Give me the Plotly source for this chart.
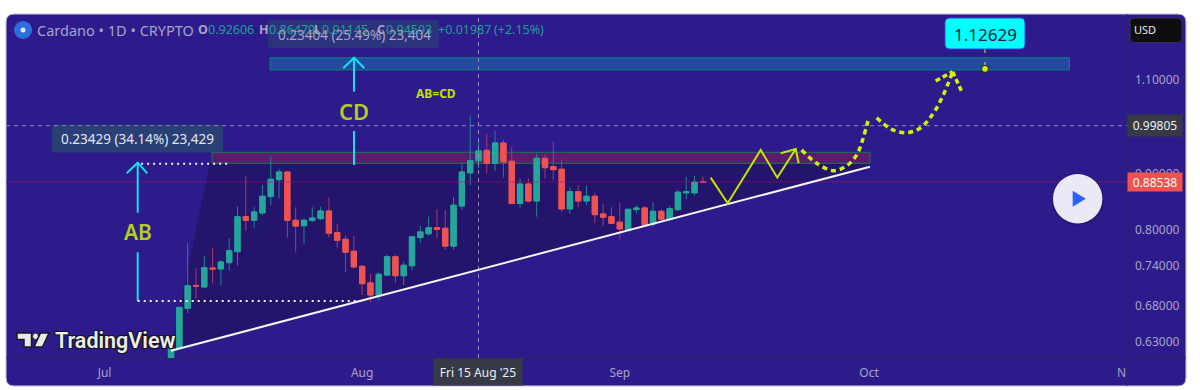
import math
import pandas as pd
import plotly.graph_objects as go

FONT = "Noto Sans"
W, H = 1200, 390
CARD = "#2d1b8c"
ORIGIN = pd.Timestamp("2025-08-15")

# ---- candle data ----
first_day = "2025-07-09"
opens = [.605,.6215,.6768,.7105,.7082,.7374,.7358,.7457,.7634,.8224,.8161,.8289,.8583,.8898,.9044,.8161,.8066,.8161,.8190,.8324,
         .7950,.7838,.7640,.7400,.7143,.6961,.7264,.7552,.7253,.7409,.7865,.7930,.8034,.8023,.7725,.8413,.9027,.92606,.9471,.9213,
         .9620,.9253,.8458,.8816,.8503,.9312,.9148,.9097,.8360,.8673,.8503,.8589,.8272,.8224,.8128,.8006,.8348,.8378,.8097,.8318,
         .8180,.8348,.8652,.8652,.8862]
highs = [.6215,.678,.7771,.7369,.7564,.7689,.7500,.7855,.8401,.8968,.8390,.8798,.9344,.9097,.9060,.8390,.8195,.8390,.8401,.8570,
         .8097,.7900,.7895,.7420,.7280,.7306,.7591,.7591,.7473,.7895,.8065,.8224,.8360,.8342,.8575,.9213,1.0195,.96479,.9799,.9875,
         .9682,.9538,.8922,.8922,.9412,.9392,.9642,.9292,.8752,.8790,.8792,.8643,.8453,.8390,.8470,.8360,.8431,.8413,.8480,.8360,
         .8419,.8705,.8954,.8968,.8954]
lows = [.600,.6215,.6696,.6903,.7070,.7137,.7111,.7331,.7409,.7978,.8034,.8247,.8427,.8545,.7865,.7634,.7760,.8128,.8166,.7872,
        .7700,.7311,.7369,.6961,.6855,.6879,.7250,.7143,.7111,.7342,.7771,.7897,.7859,.7667,.7667,.8342,.8792,.91145,.9027,.9064,
        .8936,.8445,.8380,.8473,.8224,.8916,.8892,.8310,.8276,.8390,.8427,.8113,.8065,.8097,.7838,.7990,.8272,.8051,.8051,.8154,
        .8154,.8324,.8534,.8605,.8838]
closes = [.6215,.678,.7101,.7095,.7378,.7358,.7468,.7650,.8224,.8161,.8307,.8589,.8905,.9044,.8161,.8061,.8161,.8201,.8324,.7939,
          .7820,.7624,.7390,.7131,.6961,.7275,.7552,.7253,.7416,.7878,.7962,.8034,.8006,.7725,.8427,.9044,.9265,.94593,.9213,.9620,
          .9239,.8458,.8816,.8503,.9312,.9127,.9089,.8360,.8673,.8503,.8589,.8259,.8214,.8107,.8012,.8354,.8378,.8071,.8318,.8180,
          .8365,.8664,.8670,.8854,.88538]

# ---- axis ----
price_ticks = [1.10, 0.90, 0.80, 0.74, 0.68, 0.63]
price_tick_text = ["1.10000", "0.90000", "0.80000", "0.74000", "0.68000", "0.63000"]
month_ticks = ["2025-07-01", "2025-08-01", "2025-09-01", "2025-10-01"]
month_text = ["Jul", "Aug", "Sep", "Oct"]
view_days = [-56.86, 78.04]          # days relative to 15 Aug
view_price = [0.6088, 1.2658]

# ---- drawings: days relative to 15 Aug, price ----
last_price = 0.88538
cross_price = 0.99805
target_price = 1.12629
trend_days = [-37.0, 47.11]
trend_price = [.6183, .9147]
zone_top_days = [-25.09, 71.12]
zone_top_price = [1.1237, 1.1534]
zone_mid_days = [-32.07, 47.11]
zone_mid_price = [.9213, .9431]
wedge_days = [-37.0, -32.07, 47.11, 47.11]
wedge_price = [.6183, .9431, .9431, .9147]
zig_days = [27.94, 29.99, 33.96, 35.96, 38.17]
zig_price = [.8936, .8462, .9478, .8936, .9498]
zig_head_days = [36.37, 38.17, 38.53]
zig_head_price = [.9411, .9498, .9213]
curve1_days = [38.89, 40.70, 42.70, 44.31, 45.51, 46.31, 46.99]
curve1_price = [.9478, .9213, .9069, .9165, .9380, .9730, 1.0173]
curve2_days = [47.92, 49.72, 51.53, 53.13, 54.73, 55.93, 57.06]
curve2_price = [1.0151, .9904, .9833, .9926, 1.0247, 1.0654, 1.1196]
curve_head_days = [55.02, 57.06, 58.15]
curve_head_price = [1.0977, 1.1196, 1.0730]
ab_days = -41.01
ab_shaft1 = [.9225, .8294]
ab_shaft2 = [.7624, .6874]
ab_head_days = [-42.33, -41.01, -39.86]
ab_head_price = [.9019, .9225, .9019]
cd_days = -14.98
cd_shaft1 = [1.1534, 1.073]
cd_shaft2 = [.9869, .9180]
cd_head_days = [-16.27, -14.98, -13.74]
cd_head_price = [1.1277, 1.1534, 1.1277]
dots_top_days = [-40.6, -30.14]
dots_top_price = [.9205, .9205]
dots_low_days = [-41.01, -13.9]
dots_low_price = [.6874, .6874]
target_days = 60.95
target_stick = [1.175, 1.12629]


def day(d):
    return ORIGIN + pd.Timedelta(days=d)


def days(seq):
    return [day(d) for d in seq]


def px(x):
    return x / W


def py(y):
    return 1 - y / H


dates = pd.date_range(first_day, periods=len(opens))
fig = go.Figure()

# wicks (muted), then bodies on top
fig.add_trace(go.Candlestick(
    x=dates, open=opens, high=highs, low=lows, close=closes, whiskerwidth=0,
    increasing=dict(line=dict(color="#1c8590", width=1), fillcolor="#1c8590"),
    decreasing=dict(line=dict(color="#a83a68", width=1), fillcolor="#a83a68"),
    hoverinfo="skip", showlegend=False))
fig.add_trace(go.Candlestick(
    x=dates, open=opens, close=closes,
    high=[max(o, c) for o, c in zip(opens, closes)],
    low=[min(o, c) for o, c in zip(opens, closes)], whiskerwidth=0,
    increasing=dict(line=dict(color="#26a69a", width=1), fillcolor="#26a69a"),
    decreasing=dict(line=dict(color="#ef5350", width=1), fillcolor="#ef5350"),
    hoverinfo="skip", showlegend=False))


def line(xs, ys, color, width, dash="solid", shape="linear"):
    fig.add_trace(go.Scatter(x=xs, y=ys, mode="lines", hoverinfo="skip", showlegend=False,
                             line=dict(color=color, width=width, dash=dash, shape=shape)))


span = days(view_days)
GUIDE = "#8d88b8"
line(span, [last_price, last_price], "#7d2178", 1, "1px,1px")
line(span, [cross_price, cross_price], GUIDE, 1, "4px,4px")
line([ORIGIN, ORIGIN], view_price, GUIDE, 1, "4px,4px")

line(days(trend_days), trend_price, "#f4f4fa", 2)

CYAN = "#0fe3ee"
line([day(ab_days)] * 2, ab_shaft1, CYAN, 2)
line([day(ab_days)] * 2, ab_shaft2, CYAN, 2)
line(days(ab_head_days), ab_head_price, CYAN, 2)
line([day(cd_days)] * 2, cd_shaft1, CYAN, 2)
line([day(cd_days)] * 2, cd_shaft2, CYAN, 2)
line(days(cd_head_days), cd_head_price, CYAN, 2)
line(days(dots_top_days), dots_top_price, "#f0f0f8", 2, "2px,4px")
line(days(dots_low_days), dots_low_price, "#f0f0f8", 2, "2px,4px")

LIME = "#c4e600"
DOT = "#d4f500"
line(days(zig_days), zig_price, LIME, 2)
line(days(zig_head_days), zig_head_price, LIME, 2)
line(days(curve1_days), curve1_price, DOT, 3.5, "5px,4px", "spline")
line(days(curve2_days), curve2_price, DOT, 3.5, "5px,4px", "spline")
line(days(curve_head_days)[:2], curve_head_price[:2], DOT, 3.5, "5px,3px")
line(days(curve_head_days)[1:], curve_head_price[1:], DOT, 3.5, "5px,3px")
line([day(target_days)] * 2, target_stick, DOT, 1, "4px,9px")
fig.add_trace(go.Scatter(x=[day(target_days)], y=[target_price], mode="markers", hoverinfo="skip",
                         showlegend=False,
                         marker=dict(size=7, color=DOT, line=dict(color="#1a1a1a", width=1))))

# ---- shapes ----
shapes = []


def rounded(x0, y0, x1, y1, r):
    X0, X1 = px(x0), px(x1)
    Y0, Y1 = py(y0), py(y1)
    rx, ry = r / W, r / H
    return (f"M{X0+rx},{Y0} L{X1-rx},{Y0} Q{X1},{Y0} {X1},{Y0-ry} L{X1},{Y1+ry} Q{X1},{Y1} {X1-rx},{Y1} "
            f"L{X0+rx},{Y1} Q{X0},{Y1} {X0},{Y1+ry} L{X0},{Y0-ry} Q{X0},{Y0} {X0+rx},{Y0} Z")


def pshape(path, fill, layer="above", lc=None, lw=0):
    shapes.append(dict(type="path", xref="paper", yref="paper", path=path, fillcolor=fill, layer=layer,
                       line=dict(color=lc or fill, width=lw)))


def poly(points):
    return "M" + " L".join(f"{px(x)},{py(y)}" for x, y in points) + " Z"


pshape(rounded(6, 14, 1186, 386, 8), CARD, "below", "#c9c6dc", 1)
# axes separators
shapes.append(dict(type="line", xref="paper", yref="paper", x0=px(1127), x1=px(1127), y0=py(14), y1=py(386),
                   line=dict(color="#2a2a62", width=1), layer="below"))
shapes.append(dict(type="line", xref="paper", yref="paper", x0=px(6), x1=px(1186), y0=py(358), y1=py(358),
                   line=dict(color="#2a2a62", width=1), layer="below"))


def date_path(xs, ys):
    pts = [f"{day(d).strftime('%Y-%m-%d_%H:%M:%S')},{p}" for d, p in zip(xs, ys)]
    return "M" + " L".join(pts) + " Z"


shapes.append(dict(type="path", xref="x", yref="y", path=date_path(wedge_days, wedge_price),
                   fillcolor="#24146c", line=dict(width=0), layer="below"))
shapes.append(dict(type="rect", xref="x", yref="y", x0=day(zone_mid_days[0]), x1=day(zone_mid_days[1]),
                   y0=zone_mid_price[0], y1=zone_mid_price[1], fillcolor="#5c1c6e",
                   line=dict(color="#167a58", width=1), layer="below"))
shapes.append(dict(type="rect", xref="x", yref="y", x0=day(zone_top_days[0]), x1=day(zone_top_days[1]),
                   y0=zone_top_price[0], y1=zone_top_price[1], fillcolor="#244a9f",
                   line=dict(color="#0f7a80", width=1), layer="below"))

# label plates
pshape(rounded(52, 124.5, 223, 152.5, 4), "#2a3f75", "below")
pshape(rounded(268, 20, 439, 48, 4), "rgba(42,66,118,0.62)", "above")
# cyan target label / USD box
pshape(rounded(945, 18, 1025, 49, 5), "#00ffff", "above", "#3c46e0", 1)
pshape(rounded(1130, 18, 1182, 42.5, 4), "#0e0e10", "above", "#33305a", 1)
# symbol icon
shapes.append(dict(type="circle", xref="paper", yref="paper", x0=px(14), x1=px(32), y0=py(39), y1=py(21),
                   fillcolor="#2a6fdc", line=dict(width=0), layer="above"))
shapes.append(dict(type="circle", xref="paper", yref="paper", x0=px(20.5), x1=px(25.5), y0=py(32.5), y1=py(27.5),
                   fillcolor="#dfe9fb", line=dict(width=0), layer="above"))
# play button
shapes.append(dict(type="circle", xref="paper", yref="paper", x0=px(1052), x1=px(1104), y0=py(225.5), y1=py(173.5),
                   fillcolor="rgba(15,10,60,0.22)", line=dict(width=0), layer="above"))
shapes.append(dict(type="circle", xref="paper", yref="paper", x0=px(1053), x1=px(1102.4), y0=py(223.4), y1=py(174),
                   fillcolor="#ebe9f5", line=dict(width=0), layer="above"))
pshape(poly([(1072.7, 190.7), (1085.7, 198.7), (1072.7, 206.7)]), "#2962ff")
# TradingView mark
LOGO, EDGE = "#e9e9ec", "#1a1a20"
pshape(poly([(17, 333), (31.5, 333), (31.5, 347), (24, 347), (24, 339.5), (17, 339.5)]), LOGO, "above", EDGE, 1.5)
shapes.append(dict(type="circle", xref="paper", yref="paper", x0=px(32.5), x1=px(38.5), y0=py(339.5), y1=py(333),
                   fillcolor=LOGO, line=dict(color=EDGE, width=1), layer="above"))
pshape(poly([(40.5, 333), (49, 333), (42.5, 347), (34, 347)]), LOGO, "above", EDGE, 1.5)

# ---- text ----
ann = []


def text(x, y, s, size=12, color="#a6a3c4", anchor="left", **kw):
    font = dict(family=kw.pop("family", FONT), size=size, color=color)
    font.update(kw.pop("font", {}))
    ann.append(dict(x=px(x), y=py(y), xref="paper", yref="paper", text=s, showarrow=False, xanchor=anchor,
                    yanchor="middle", font=font, borderpad=0, **kw))


GREY, TEAL = "#a6a3c4", "#1f9e98"
text(36, 30, "Cardano • 1D • CRYPTO", 14.5, GREY)
text(197, 30, "<b>O</b>", 12.5, GREY)
text(207, 30, "0.92606", 12.5, TEAL)
text(258, 30, "<b>H</b>", 12.5, GREY)
text(268, 30, "0.86479", 12.5, TEAL)
text(313, 30, "<b>L</b>", 12.5, GREY)
text(321, 30, "0.91145", 12.5, TEAL)
text(376, 30, "<b>C</b>", 12.5, GREY)
text(385, 30, "0.94593", 12.5, TEAL)
text(437, 30, "+0.01987", 12.5, TEAL)
text(493, 30, "(+2.15%)", 12.5, TEAL)
text(354, 35, "0.23404 (25.49%) 23,404", 13.5, "#a8a6c0", "center")
text(137.5, 139, "0.23429 (34.14%) 23,429", 13.5, "#e3e5f2", "center")
text(435.5, 93.5, "<b>AB=CD</b>", 12, "#c0e000", "center")
text(354, 111, "CD", 22, "#b3cc22", "center", font=dict(weight=600))
text(137.5, 232, "AB", 21, "#b3cc22", "center", font=dict(weight=600))
text(985, 34, "1.12629", 17, "#082030", "center")
text(1133, 30, "USD", 11, "#e8e8ee")
text(1154.5, 125.5, "0.99805", 12, "#f0f0f5", "center", bgcolor="#363a45", width=54, height=21)
text(1154.5, 182, "0.88538", 12, "#ffffff", "center", bgcolor="#ef5350", width=54, height=18)
text(478, 371.5, "Fri 15 Aug '25", 12, "#eeeef3", "center", bgcolor="#363a45", width=88, height=26)
text(1116, 372, "N", 12, GREY)
halo = "-1px -1px 0 #16161c,1px -1px 0 #16161c,-1px 1px 0 #16161c,1px 1px 0 #16161c,0 0 2px #16161c"
text(54, 340, "TradingView", 21.5, "#ececee", family="Roboto", font=dict(weight=600, shadow=halo))

fig.update_layout(
    width=W, height=H, autosize=False,
    margin=dict(l=0, r=0, t=0, b=0, pad=0),
    paper_bgcolor="#ffffff", plot_bgcolor="rgba(0,0,0,0)",
    boxgap=0.2, boxgroupgap=0.2, showlegend=False, hovermode=False,
    font=dict(family=FONT, size=12, color=GREY),
    shapes=shapes, annotations=ann,
    xaxis=dict(type="date", domain=[px(6), px(1127)], range=span, rangeslider=dict(visible=False),
               tickmode="array", tickvals=month_ticks, ticktext=month_text, showgrid=False, zeroline=False,
               showline=False, ticks="", ticklabelstandoff=6, tickfont=dict(size=12, color=GREY)),
    yaxis=dict(type="log", domain=[1 - 358 / H, 1 - 14 / H],
               range=[math.log10(view_price[0]), math.log10(view_price[1])],
               side="right", tickmode="array", tickvals=price_ticks, ticktext=price_tick_text,
               showgrid=False, zeroline=False, showline=False, ticks="", ticklabelstandoff=7,
               tickfont=dict(size=12, color=GREY)),
)
fig.write_html("out.html", config=dict(displayModeBar=False),
               post_script="document.body.style.margin='0';document.documentElement.style.overflow='hidden';")
